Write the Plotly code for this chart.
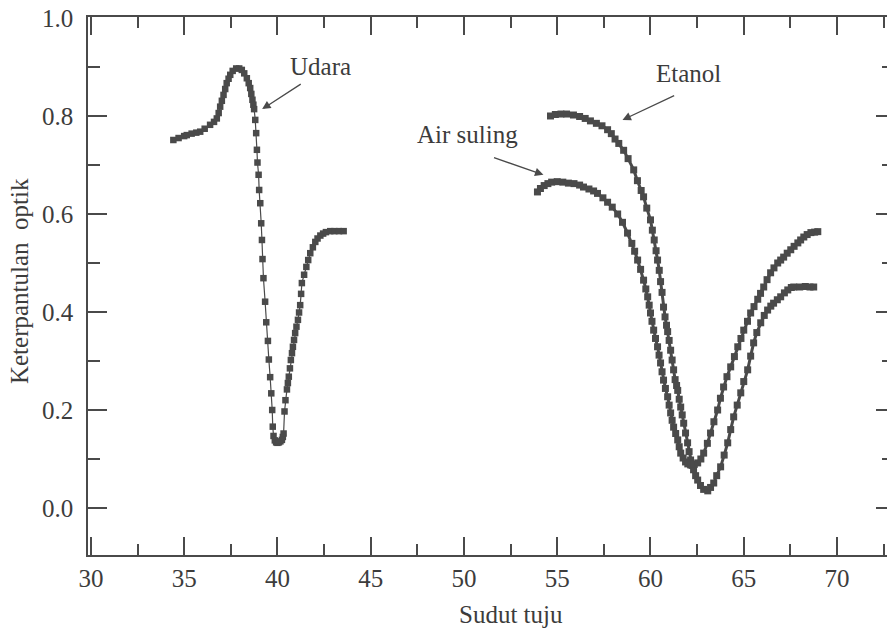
import plotly.graph_objects as go

# ---- Data ----
udara_x = [34.42, 34.7, 35.0, 35.14, 35.4, 35.65, 35.86, 36.1, 36.39, 36.6, 36.75, 36.85, 36.93,
           37.02, 37.11, 37.2, 37.28, 37.38, 37.47, 37.6, 37.79, 37.95, 38.09, 38.22, 38.36, 38.46,
           38.54, 38.6, 38.66, 38.71, 38.75, 38.81, 38.86, 38.9, 38.93, 38.99, 39.02, 39.08, 39.13,
           39.17, 39.2, 39.25, 39.34, 39.4, 39.49, 39.54, 39.61, 39.67, 39.72, 39.75, 39.79, 39.86,
           39.93, 40.0, 40.08, 40.16, 40.24, 40.29, 40.33, 40.38, 40.43, 40.51, 40.56, 40.61, 40.67,
           40.72, 40.78, 40.83, 40.89, 40.95, 41.02, 41.1, 41.16, 41.22, 41.27, 41.31, 41.43, 41.55,
           41.65, 41.76, 41.9, 42.03, 42.15, 42.3, 42.45, 42.6, 42.83, 43.05, 43.3, 43.55]
udara_y = [0.751, 0.755, 0.759, 0.761, 0.764, 0.766, 0.768, 0.774, 0.782, 0.788, 0.795, 0.806, 0.819,
           0.831, 0.843, 0.855, 0.867, 0.876, 0.884, 0.892, 0.897, 0.897, 0.894, 0.887, 0.877, 0.867,
           0.857, 0.845, 0.833, 0.823, 0.814, 0.792, 0.765, 0.731, 0.705, 0.680, 0.649, 0.622, 0.581,
           0.547, 0.508, 0.469, 0.421, 0.379, 0.341, 0.303, 0.267, 0.234, 0.200, 0.166, 0.147, 0.138,
           0.134, 0.133, 0.134, 0.136, 0.139, 0.145, 0.152, 0.197, 0.220, 0.242, 0.255, 0.268, 0.285,
           0.302, 0.316, 0.329, 0.343, 0.357, 0.370, 0.384, 0.399, 0.414, 0.437, 0.459, 0.476, 0.492,
           0.506, 0.520, 0.532, 0.543, 0.550, 0.556, 0.560, 0.563, 0.565, 0.565, 0.565, 0.565]

etanol_x = [54.64, 54.9, 55.2, 55.5, 55.87, 56.2, 56.5, 56.78, 57.1, 57.4, 57.7, 57.9, 58.1, 58.3,
            58.56, 58.8, 59.1, 59.3, 59.5, 59.63, 59.8, 60.0, 60.1, 60.2, 60.3, 60.38, 60.47, 60.54,
            60.62, 60.7, 60.78, 60.86, 60.92, 61.0, 61.08, 61.16, 61.24, 61.32, 61.4, 61.46, 61.54,
            61.62, 61.7, 61.78, 61.88, 61.99, 62.07, 62.15, 62.23, 62.31, 62.42, 62.53, 62.68, 62.85,
            63.07, 63.22, 63.39, 63.55, 63.76, 63.95, 64.14, 64.3, 64.46, 64.65, 64.84, 65.0, 65.21,
            65.37, 65.53, 65.7, 65.91, 66.1, 66.28, 66.45, 66.6, 66.8, 66.98, 67.18, 67.36, 67.55,
            67.68, 68.0, 68.3, 68.55, 68.75]
etanol_y = [0.800, 0.803, 0.804, 0.804, 0.802, 0.799, 0.795, 0.790, 0.785, 0.780, 0.772, 0.764, 0.753,
            0.744, 0.730, 0.713, 0.690, 0.668, 0.648, 0.635, 0.612, 0.588, 0.567, 0.547, 0.525, 0.506,
            0.485, 0.462, 0.440, 0.410, 0.390, 0.373, 0.360, 0.342, 0.322, 0.302, 0.282, 0.262, 0.250,
            0.240, 0.222, 0.206, 0.190, 0.173, 0.153, 0.133, 0.115, 0.098, 0.087, 0.078, 0.066, 0.057,
            0.046, 0.038, 0.035, 0.042, 0.051, 0.066, 0.084, 0.108, 0.133, 0.160, 0.186, 0.210, 0.235,
            0.258, 0.282, 0.310, 0.337, 0.358, 0.378, 0.393, 0.404, 0.412, 0.418, 0.425, 0.431, 0.439,
            0.445, 0.450, 0.451, 0.451, 0.452, 0.451, 0.451]

air_x = [53.94, 54.1, 54.3, 54.5, 54.7, 55.0, 55.3, 55.6, 55.9, 56.2, 56.41, 56.7, 56.95, 57.16,
         57.45, 57.7, 57.95, 58.24, 58.5, 58.77, 59.0, 59.15, 59.31, 59.47, 59.63, 59.75, 59.85,
         59.93, 60.0, 60.08, 60.17, 60.27, 60.38, 60.46, 60.54, 60.62, 60.7, 60.8, 60.92, 61.0,
         61.08, 61.16, 61.24, 61.35, 61.46, 61.54, 61.62, 61.75, 61.88, 62.0, 62.15, 62.35, 62.53,
         62.7, 62.85, 63.05, 63.22, 63.4, 63.6, 63.75, 63.92, 64.1, 64.3, 64.5, 64.68, 64.85, 65.0,
         65.2, 65.37, 65.55, 65.75, 65.9, 66.07, 66.25, 66.44, 66.62, 66.82, 66.98, 67.14, 67.33,
         67.52, 67.7, 67.9, 68.05, 68.22, 68.4, 68.6, 68.8, 68.97]
air_y = [0.645, 0.652, 0.658, 0.662, 0.665, 0.666, 0.665, 0.663, 0.662, 0.659, 0.655, 0.651, 0.647,
         0.642, 0.633, 0.624, 0.614, 0.600, 0.583, 0.561, 0.540, 0.524, 0.506, 0.487, 0.465, 0.447,
         0.431, 0.414, 0.398, 0.381, 0.363, 0.346, 0.329, 0.312, 0.296, 0.278, 0.261, 0.244, 0.227,
         0.210, 0.194, 0.179, 0.165, 0.152, 0.139, 0.125, 0.112, 0.102, 0.094, 0.090, 0.088, 0.089,
         0.092, 0.100, 0.112, 0.132, 0.153, 0.176, 0.200, 0.224, 0.247, 0.268, 0.288, 0.309, 0.329,
         0.346, 0.363, 0.381, 0.398, 0.411, 0.426, 0.438, 0.451, 0.466, 0.480, 0.490, 0.500, 0.506,
         0.512, 0.520, 0.527, 0.534, 0.541, 0.547, 0.553, 0.558, 0.562, 0.563, 0.564]

x_ticks = [30, 35, 40, 45, 50, 55, 60, 65, 70]
y_ticks = [0.0, 0.2, 0.4, 0.6, 0.8, 1.0]
y_tick_labels = ["0.0", "0.2", "0.4", "0.6", "0.8", "1.0"]

INK = "#4a4a4a"
TXT = "#3c3c3c"
FONT = "Liberation Serif"
FS = 25

fig = go.Figure()

fig.add_trace(go.Scatter(x=udara_x, y=udara_y, mode="lines+markers", name="Udara",
                         line=dict(color=INK, width=1.2),
                         marker=dict(symbol="square", size=6.5, color=INK)))
fig.add_trace(go.Scatter(x=etanol_x, y=etanol_y, mode="lines+markers", name="Etanol",
                         line=dict(color=INK, width=3),
                         marker=dict(symbol="square", size=7, color=INK)))
fig.add_trace(go.Scatter(x=air_x, y=air_y, mode="lines+markers", name="Air suling",
                         line=dict(color=INK, width=3),
                         marker=dict(symbol="square", size=7, color=INK)))
# invisible trace to carry the right-hand tick axis
fig.add_trace(go.Scatter(x=[], y=[], yaxis="y2", showlegend=False))

annots = [
    dict(text="Udara", x=42.3, y=0.90),
    dict(text="Etanol", x=62.05, y=0.886),
    dict(text="Air suling", x=50.18, y=0.763),
]
for a in annots:
    fig.add_annotation(x=a["x"], y=a["y"], text=a["text"], showarrow=False,
                       xref="x", yref="y", font=dict(family=FONT, size=FS, color=TXT))

arrows = [
    (39.18, 0.814, 41.33, 0.867),
    (58.5, 0.792, 61.35, 0.843),
    (54.26, 0.680, 51.53, 0.716),
]
for hx, hy, tx, ty in arrows:
    fig.add_annotation(x=hx, y=hy, ax=tx, ay=ty, xref="x", yref="y", axref="x", ayref="y",
                       text="", showarrow=True, arrowhead=2, arrowsize=1.3, arrowwidth=1.3,
                       arrowcolor=INK)

# axis titles
fig.add_annotation(text="Sudut tuju", xref="paper", yref="paper", x=0.529, y=-0.11,
                   xanchor="center", yanchor="middle", showarrow=False,
                   font=dict(family=FONT, size=FS, color=TXT))
fig.add_annotation(text="Keterpantulan\u00a0 optik", xref="paper", yref="paper", x=-0.0865, y=0.509,
                   xanchor="center", yanchor="middle", textangle=-90, showarrow=False,
                   font=dict(family=FONT, size=FS, color=TXT))

fig.update_layout(
    width=887, height=632,
    margin=dict(l=88, r=0, t=17, b=77, autoexpand=False),
    paper_bgcolor="white", plot_bgcolor="white",
    showlegend=False,
    font=dict(family=FONT, size=FS, color=TXT),
    xaxis=dict(range=[29.844, 72.68], tickvals=x_ticks, ticks="inside", ticklen=18, tickwidth=1.5,
               tickcolor=INK, showline=True, linecolor=INK, linewidth=1.5, mirror="ticks",
               showgrid=False, zeroline=False, ticklabelstandoff=0, automargin=False,
               tickfont=dict(family=FONT, size=FS, color=TXT),
               minor=dict(tickvals=[32.5, 37.5, 42.5, 47.5, 52.5, 57.5, 62.5, 67.5, 72.5],
                          ticks="inside", ticklen=11, tickwidth=1.5, tickcolor=INK)),
    yaxis=dict(range=[-0.0959, 1.002], tickvals=y_ticks, ticktext=y_tick_labels, ticks="inside",
               ticklen=19, tickwidth=1.5, tickcolor=INK, showline=True, linecolor=INK, linewidth=1.5,
               mirror=False, showgrid=False, zeroline=False, ticklabelstandoff=8, automargin=False,
               tickfont=dict(family=FONT, size=FS, color=TXT),
               minor=dict(tickvals=[0.1, 0.3, 0.5, 0.7, 0.9],
                          ticks="inside", ticklen=12, tickwidth=1.5, tickcolor=INK)),
    yaxis2=dict(range=[-0.0959, 1.002], overlaying="y", side="right", tickvals=y_ticks,
                showticklabels=False, ticks="inside", ticklen=11, tickwidth=1.5, tickcolor=INK,
                showline=False, showgrid=False, zeroline=False, automargin=False,
                minor=dict(tickvals=[0.1, 0.3, 0.5, 0.7, 0.9],
                           ticks="inside", ticklen=5, tickwidth=1.5, tickcolor=INK)),
)

fig.write_html("out.html", config={"displayModeBar": False},
               post_script="document.body.style.margin='0';document.body.style.overflow='hidden';")
